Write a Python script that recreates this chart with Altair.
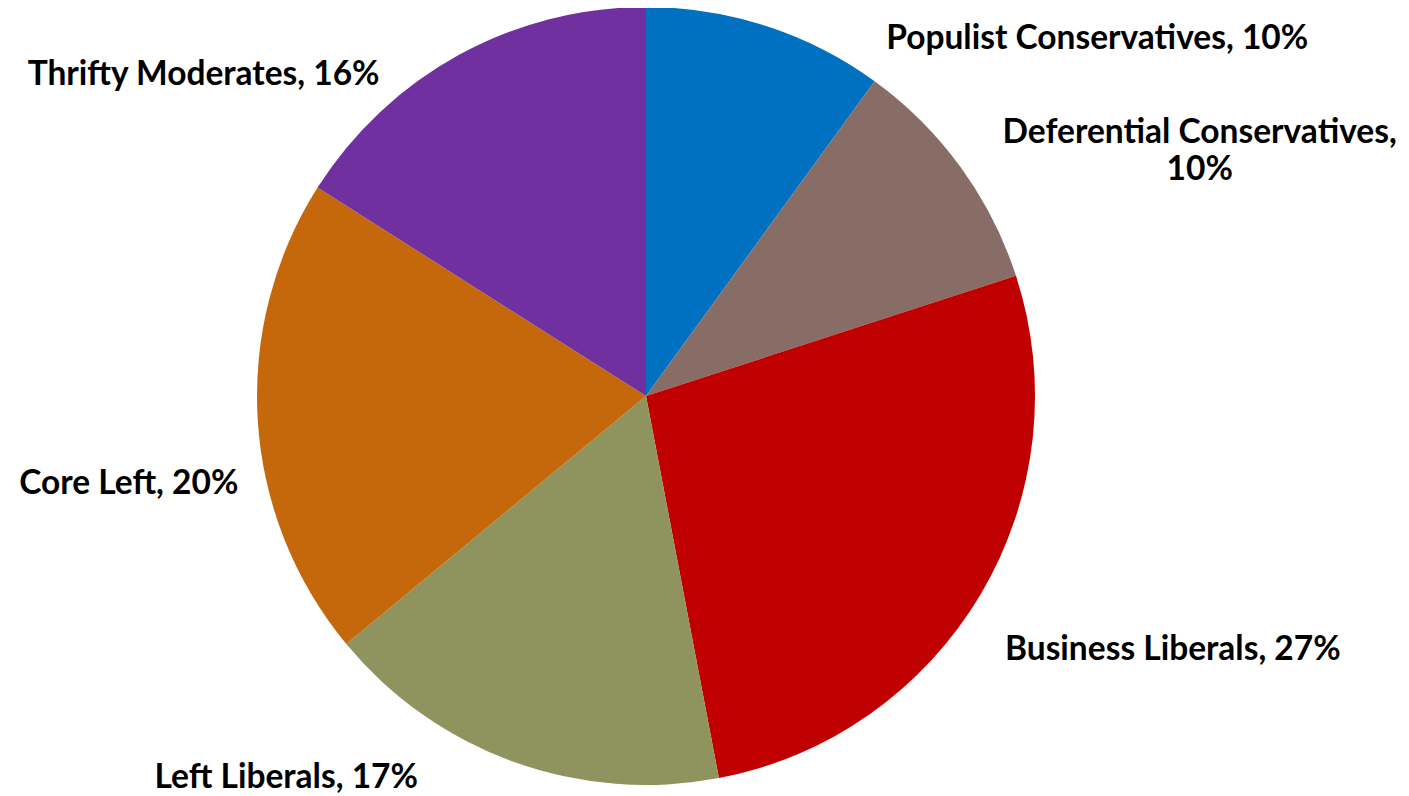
import math
import altair as alt
import pandas as pd

# ---- data ----
categories = [
    "Populist Conservatives",
    "Deferential Conservatives",
    "Business Liberals",
    "Left Liberals",
    "Core Left",
    "Thrifty Moderates",
]
shares = [10, 10, 27, 17, 20, 16]
labels = [
    "Populist Conservatives, 10%",
    "Deferential Conservatives,\n10%",
    "Business Liberals, 27%",
    "Left Liberals, 17%",
    "Core Left, 20%",
    "Thrifty Moderates, 16%",
]
colors = ["#0070C0", "#876D66", "#C00000", "#8F945F", "#C5680C", "#7030A0"]

# ---- layout (label offsets from slice mid-angle on the rim) ----
RADIUS = 389
label_offsets = {
    "Populist Conservatives": (331, 23),
    "Deferential Conservatives": (239, -24),
    "Business Liberals": (192, 66),
    "Left Liberals": (-228, 26),
    "Core Left": (-129, 74),
    "Thrifty Moderates": (-255, 30),
}

df = pd.DataFrame(
    {
        "category": categories,
        "share": shares,
        "label": labels,
        "order": list(range(len(categories))),
    }
)

theta_scale = alt.Scale(domain=[0, 100], range=[0, 2 * math.pi])

pie = (
    alt.Chart(df)
    .mark_arc(outerRadius=RADIUS, innerRadius=0)
    .encode(
        theta=alt.Theta("share:Q", stack=True, scale=theta_scale),
        color=alt.Color(
            "category:N",
            scale=alt.Scale(domain=categories, range=colors),
            legend=None,
        ),
        order=alt.Order("order:Q"),
    )
)

base = (
    alt.Chart(df)
    .transform_window(cum="sum(share)", sort=[alt.SortField("order")], frame=[None, 0])
    .transform_calculate(mid="datum.cum - datum.share / 2")
)

text_layers = []
for cat in categories:
    dx, dy = label_offsets[cat]
    text_layers.append(
        base.transform_filter(alt.datum.category == cat)
        .mark_text(
            radius=RADIUS,
            dx=dx,
            dy=dy,
            align="center",
            baseline="alphabetic",
            font="Lato",
            fontWeight="bold",
            fontSize=33.5,
            lineBreak="\n",
            lineHeight=37,
            color="#000000",
        )
        .encode(theta=alt.Theta("mid:Q", scale=theta_scale), text="label:N")
    )

chart = (
    alt.layer(pie, *text_layers)
    .properties(
        width=1276,
        height=776,
        padding={"left": 0, "top": 0, "right": 115, "bottom": 14},
        autosize=alt.AutoSizeParams(type="none"),
        background="white",
    )
    .configure_view(stroke=None)
)

chart.save("out.html", embed_options={"renderer": "svg", "actions": False})
